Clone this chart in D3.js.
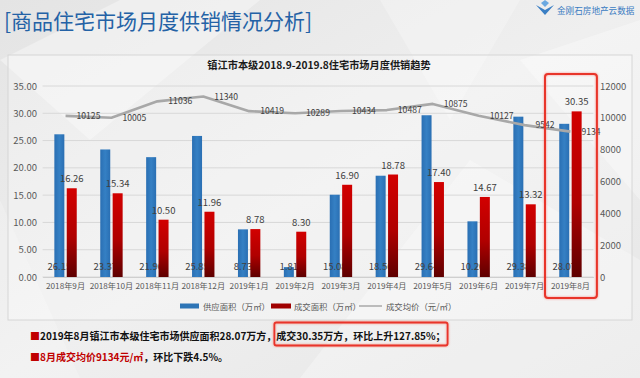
<!DOCTYPE html>
<html><head><meta charset="utf-8">
<script src="https://cdn.jsdelivr.net/npm/d3@7/dist/d3.min.js"></script>
<style>
html,body{margin:0;padding:0;background:#e9e9e9;}
svg{display:block;font-family:"Noto Sans CJK SC","Noto Sans",sans-serif;}
</style></head>
<body>
<svg id="c" width="640" height="378"></svg>
<script>
const categories = ["2018年9月","2018年10月","2018年11月","2018年12月","2019年1月","2019年2月","2019年3月","2019年4月","2019年5月","2019年6月","2019年7月","2019年8月"];
const supply = [26.15,23.37,21.96,25.85,8.73,1.81,15.08,18.56,29.64,10.20,29.38,28.07];
const deal = [16.26,15.34,10.50,11.96,8.78,8.30,16.90,18.78,17.40,14.67,13.32,30.35];
const price = [10125,10005,11036,11340,10419,10289,10434,10487,10875,10127,9542,9134];
const leftTicks = [0,5,10,15,20,25,30,35];
const rightTicks = [0,2000,4000,6000,8000,10000,12000];
const seriesNames = ["供应面积（万㎡）","成交面积（万㎡）","成交均价（元/㎡）"];
const pageTitle = "[商品住宅市场月度供销情况分析]";
const chartTitle = "镇江市本级2018.9-2019.8住宅市场月度供销趋势";
const brand = "金刚石房地产云数据";
const note1a = "■2019年8月镇江市本级住宅市场供应面积28.07万方，";
const note1b = "成交30.35万方，环比上升127.85%；";
const note2a = "8月成交均价9134元/㎡";
const note2b = "，环比下跌4.5%。";

const svg = d3.select("#c");
const defs = svg.append("defs");
const bg = defs.append("linearGradient").attr("id","bg").attr("x1","0").attr("y1","0").attr("x2","1").attr("y2","1");
bg.append("stop").attr("offset","0").attr("stop-color","#e4e4e4");
bg.append("stop").attr("offset","0.5").attr("stop-color","#efefef");
bg.append("stop").attr("offset","1").attr("stop-color","#e6e6e6");
const rg = defs.append("linearGradient").attr("id","redg").attr("x1","0").attr("y1","0").attr("x2","0").attr("y2","1");
rg.append("stop").attr("offset","0").attr("stop-color","#d20000");
rg.append("stop").attr("offset","0.55").attr("stop-color","#b00000");
rg.append("stop").attr("offset","1").attr("stop-color","#5e0000");
const bgl = defs.append("linearGradient").attr("id","blueg").attr("x1","0").attr("y1","0").attr("x2","1").attr("y2","0");
bgl.append("stop").attr("offset","0").attr("stop-color","#2a6fb3");
bgl.append("stop").attr("offset","0.5").attr("stop-color","#3580c4");
bgl.append("stop").attr("offset","1").attr("stop-color","#2a6fb3");
const sh = defs.append("filter").attr("id","glow").attr("x","-10%").attr("y","-10%").attr("width","120%").attr("height","120%");
sh.append("feGaussianBlur").attr("in","SourceAlpha").attr("stdDeviation","1.2").attr("result","b");
sh.append("feFlood").attr("flood-color","#ff3020").attr("flood-opacity","0.5");
sh.append("feComposite").attr("in2","b").attr("operator","in").attr("result","g");
const fm = sh.append("feMerge"); fm.append("feMergeNode").attr("in","g"); fm.append("feMergeNode").attr("in","SourceGraphic");

// background
svg.append("rect").attr("width",640).attr("height",378).attr("fill","url(#bg)");
const polys = [
  [[0,60],[120,0],[260,0],[90,140]],
  [[300,378],[470,160],[640,260],[640,378]],
  [[380,0],[520,0],[450,120]],
  [[0,200],[80,378],[0,378]],
  [[520,60],[640,20],[640,200]]
];
svg.selectAll("polygon.bgp").data(polys).join("polygon").attr("class","bgp")
  .attr("points",d=>d.map(p=>p.join(",")).join(" "))
  .attr("fill","#ffffff").attr("opacity",(d,i)=>[0.35,0.3,0.25,0.2,0.3][i]);

// page title
svg.append("text").attr("x",4).attr("y",29).attr("font-size",21).attr("fill","#2462a6").text(pageTitle);
// brand logo
const lg = svg.append("g");
lg.append("path").attr("d","M536,5 L545,10 L554,5 L545,15 Z").attr("fill","#3b7fc4");
lg.append("path").attr("d","M541,3 L545,7 L549,3 L545,0 Z").attr("fill","#6aa8e0");
lg.append("text").attr("x",557).attr("y",13.5).attr("font-size",8.6).attr("fill","#3b7cc2").text(brand);

// panel
svg.append("rect").attr("x",8).attr("y",55).attr("width",624).attr("height",265)
  .attr("fill","#ffffff").attr("fill-opacity",0.28).attr("stroke","#d6d6d6").attr("stroke-width",1);

const x = d3.scaleBand().domain(categories).range([42.6,593.4]);
const x1 = d3.scaleBand().domain(["s","d"]).range([0,x.bandwidth()]).paddingInner(0.194).paddingOuter(0.948);
const y = d3.scaleLinear().domain([0,35]).range([277,86]);
const y2 = d3.scaleLinear().domain([0,12000]).range([277,86]);

// gridlines
svg.append("g").selectAll("line").data(leftTicks).join("line")
  .attr("x1",42.6).attr("x2",593.4).attr("y1",d=>y(d)).attr("y2",d=>y(d))
  .attr("stroke","#d8d8d8").attr("stroke-width",1);

// left axis
const ga = svg.append("g").attr("transform","translate(42,0)")
  .call(d3.axisLeft(y).tickValues(leftTicks).tickFormat(d3.format(".2f")).tickSize(0).tickPadding(5));
ga.select(".domain").remove();
ga.selectAll("text").attr("font-size",9.5).attr("fill","#595959").attr("font-family","'Noto Sans CJK SC',sans-serif");
// right axis
const gr = svg.append("g").attr("transform","translate(596,0)")
  .call(d3.axisRight(y2).tickValues(rightTicks).tickFormat(d3.format("d")).tickSize(0).tickPadding(4));
gr.select(".domain").remove();
gr.selectAll("text").attr("font-size",9.5).attr("fill","#595959").attr("font-family","'Noto Sans CJK SC',sans-serif");
// bottom axis
const gb = svg.append("g").attr("transform","translate(0,277)")
  .call(d3.axisBottom(x).tickSize(0).tickPadding(6));
gb.select(".domain").attr("stroke","#cfcfcf");
gb.selectAll("text").attr("font-size",8.2).attr("fill","#595959").attr("font-family","'Noto Sans CJK SC',sans-serif");

// chart title
svg.append("text").attr("x",319).attr("y",69).attr("text-anchor","middle").attr("font-size",10.2)
  .attr("font-weight","bold").attr("fill","#1a1a1a").text(chartTitle);

// supply bars
svg.append("g").selectAll("rect").data(supply).join("rect")
  .attr("x",(d,i)=>x(categories[i])+x1("s")).attr("width",x1.bandwidth())
  .attr("y",d=>y(d)).attr("height",d=>y(0)-y(d)).attr("fill","url(#blueg)");
// supply labels (behind red bars)
svg.append("g").selectAll("text").data(supply).join("text")
  .attr("x",(d,i)=>x(categories[i])+x1("s")+x1.bandwidth()/2).attr("y",270)
  .attr("text-anchor","middle").attr("font-size",9.5).attr("fill","#404040").text(d=>d.toFixed(2));
// deal bars
svg.append("g").selectAll("rect").data(deal).join("rect")
  .attr("x",(d,i)=>x(categories[i])+x1("d")).attr("width",x1.bandwidth())
  .attr("y",d=>y(d)).attr("height",d=>y(0)-y(d)).attr("fill","url(#redg)");
svg.append("g").selectAll("text").data(deal).join("text")
  .attr("x",(d,i)=>x(categories[i])+x1("d")+x1.bandwidth()/2).attr("y",d=>y(d)-6)
  .attr("text-anchor","middle").attr("font-size",9.5).attr("fill","#404040").text(d=>d.toFixed(2));

// price line
const cx = (i)=>x(categories[i])+x.bandwidth()/2;
svg.append("path").datum(price)
  .attr("d",d3.line().x((d,i)=>cx(i)).y(d=>y2(d)))
  .attr("fill","none").attr("stroke","#a8a8a8").attr("stroke-width",2.6).attr("stroke-linejoin","round");
svg.append("g").selectAll("text").data(price).join("text")
  .attr("x",(d,i)=>cx(i)+11).attr("y",d=>y2(d)+3)
  .attr("font-size",8.6).attr("fill","#404040").text(d=>d);

// highlight box on last category
const lastC = categories[categories.length-1];
svg.append("rect").attr("x",x(lastC)-2.5).attr("y",74).attr("width",x.bandwidth()+6).attr("height",224)
  .attr("rx",3).attr("fill","none").attr("stroke","#e8352b").attr("stroke-width",2).attr("filter","url(#glow)");

// legend
const lgd = svg.append("g").attr("font-size",8.4).attr("fill","#595959");
lgd.append("rect").attr("x",180).attr("y",303.5).attr("width",19).attr("height",5).attr("fill","#2e75b6");
lgd.append("text").attr("x",203).attr("y",309.5).text(seriesNames[0]);
lgd.append("rect").attr("x",271).attr("y",303.5).attr("width",20).attr("height",5).attr("fill","#a00000");
lgd.append("text").attr("x",294).attr("y",309.5).text(seriesNames[1]);
lgd.append("line").attr("x1",359).attr("x2",382).attr("y1",306).attr("y2",306).attr("stroke","#a8a8a8").attr("stroke-width",1.5);
lgd.append("text").attr("x",386).attr("y",309.5).text(seriesNames[2]);

// notes
const n1a = svg.append("text").attr("x",30).attr("y",339.5).attr("font-size",10).attr("font-weight","bold").attr("fill","#111");
n1a.append("tspan").attr("fill","#c00000").text(note1a.slice(0,1));
n1a.append("tspan").text(note1a.slice(1));
const w1 = n1a.node().getComputedTextLength();
const n1b = svg.append("text").attr("x",30+w1).attr("y",339.5).attr("font-size",10).attr("font-weight","bold").attr("fill","#111").text(note1b);
const w2 = n1b.node().getComputedTextLength();
svg.append("rect").attr("x",30+w1-2).attr("y",322.5).attr("width",w2+4).attr("height",23).attr("rx",2)
  .attr("fill","none").attr("stroke","#e8352b").attr("stroke-width",1.8).attr("filter","url(#glow)");
const n2 = svg.append("text").attr("x",30).attr("y",361).attr("font-size",10).attr("font-weight","bold");
n2.append("tspan").attr("fill","#c00000").text("■"+note2a);
n2.append("tspan").attr("fill","#111").text(note2b);
</script>
</body></html>
